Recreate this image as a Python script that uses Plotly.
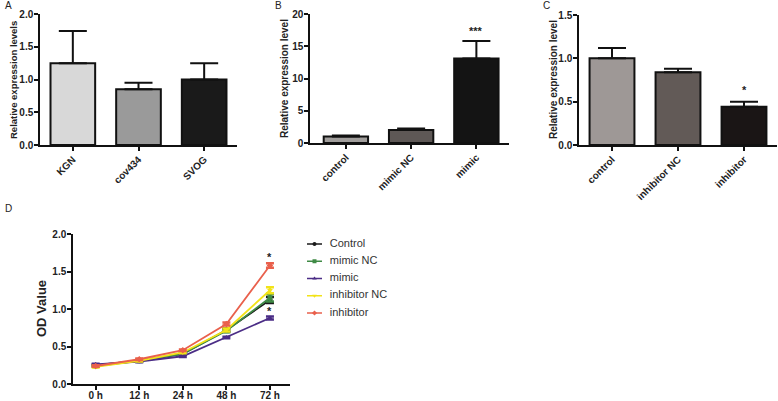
import plotly.graph_objects as go

W, H = 778, 401

# Panel A
a_cats = ["KGN", "cov434", "SVOG"]
a_vals = [1.25, 0.85, 1.00]
a_err = [0.49, 0.10, 0.25]
a_colors = ["#d8d8d8", "#9a9a9a", "#1a1a1a"]

# Panel B
b_cats = ["control", "mimic NC", "mimic"]
b_vals = [1.0, 2.0, 13.1]
b_err = [0.15, 0.25, 2.7]
b_colors = ["#a19e9c", "#5e5856", "#141414"]

# Panel C
c_cats = ["control", "inhibitor NC", "inhibitor"]
c_vals = [1.00, 0.84, 0.44]
c_err = [0.12, 0.04, 0.06]
c_colors = ["#9e9896", "#625a57", "#1a1515"]

# Panel D
d_times = ["0 h", "12 h", "24 h", "48 h", "72 h"]
d_series = ["Control", "mimic NC", "mimic", "inhibitor NC", "inhibitor"]
d_control = [0.25, 0.31, 0.40, 0.72, 1.12]
d_mimic_nc = [0.24, 0.31, 0.40, 0.71, 1.15]
d_mimic = [0.26, 0.30, 0.37, 0.62, 0.88]
d_inh_nc = [0.23, 0.31, 0.42, 0.72, 1.25]
d_inh = [0.24, 0.33, 0.45, 0.80, 1.58]
d_control_err = [0.01, 0.01, 0.01, 0.02, 0.04]
d_mimic_nc_err = [0.01, 0.01, 0.01, 0.02, 0.05]
d_mimic_err = [0.01, 0.01, 0.01, 0.01, 0.02]
d_inh_nc_err = [0.01, 0.01, 0.01, 0.02, 0.04]
d_inh_err = [0.01, 0.01, 0.01, 0.02, 0.03]
d_colors = ["#1a1a1a", "#3f8a45", "#4b2d86", "#f2e318", "#e9604c"]
d_symbols = ["circle", "square", "triangle-up", "triangle-down", "diamond"]

FONT = "Liberation Sans"
fig = go.Figure()


def px_x(a, b):
    return [a / W, b / W]


def px_y(top, bottom):
    return [1 - bottom / H, 1 - top / H]


def add_bars(cats, vals, errs, colors, xa, ya):
    fig.add_trace(go.Bar(
        x=cats, y=vals, marker=dict(color=colors, line=dict(color="#111", width=2)),
        width=0.68,
        error_y=dict(type="data", array=errs, arrayminus=[0] * len(errs), symmetric=False,
                     color="#111", thickness=2, width=14),
        xaxis=xa, yaxis=ya, showlegend=False, hoverinfo="skip"))


add_bars(a_cats, a_vals, a_err, a_colors, "x", "y")
add_bars(b_cats, b_vals, b_err, b_colors, "x2", "y2")
add_bars(c_cats, c_vals, c_err, c_colors, "x3", "y3")

d_vals = [d_control, d_mimic_nc, d_mimic, d_inh_nc, d_inh]
d_errs = [d_control_err, d_mimic_nc_err, d_mimic_err, d_inh_nc_err, d_inh_err]
for i, (name, v, e, c, s) in enumerate(zip(d_series, d_vals, d_errs, d_colors, d_symbols)):
    fig.add_trace(go.Scatter(
        x=d_times, y=v, name=name, mode="lines+markers",
        line=dict(color=c, width=1.8), marker=dict(symbol=s, size=5, color=c),
        error_y=dict(type="data", array=e, color=c, thickness=2.5, width=4),
        xaxis="x4", yaxis="y4", showlegend=False))
    # legend entry (own small axis, row = series index)
    fig.add_trace(go.Scatter(
        x=[0, 0.625, 1.25], y=[i, i, i], mode="lines", line=dict(color=c, width=1.5),
        xaxis="x5", yaxis="y5", showlegend=False, hoverinfo="skip"))
    fig.add_trace(go.Scatter(
        x=[0.625], y=[i], mode="markers", marker=dict(symbol=s, size=4, color=c),
        xaxis="x5", yaxis="y5", showlegend=False, hoverinfo="skip"))
    fig.add_trace(go.Scatter(
        x=[1.9], y=[i], mode="text", text=[name], textposition="middle right",
        textfont=dict(family=FONT, size=11, color="#333"),
        xaxis="x5", yaxis="y5", showlegend=False, hoverinfo="skip"))

tickf = dict(family=FONT, size=10, color="#222", weight="bold")
axis_common = dict(showline=True, linecolor="#111", linewidth=1.5, ticks="outside",
                   ticklen=4, tickwidth=1.5, tickcolor="#111", showgrid=False,
                   zeroline=False, tickfont=tickf, fixedrange=True, automargin=False)
hidden = dict(visible=False, fixedrange=True, showgrid=False, zeroline=False)

fig.update_layout(
    width=W, height=H, margin=dict(l=0, r=0, t=0, b=0, autoexpand=False),
    paper_bgcolor="white", plot_bgcolor="white", showlegend=False,
    xaxis=dict(domain=px_x(40, 237), anchor="y", range=[-0.5, 2.5], tickangle=-45,
               ticklabelstandoff=-1, **axis_common),
    yaxis=dict(domain=px_y(14, 145), anchor="x", range=[0, 2], dtick=0.5, tickformat=".1f",
               ticklabelstandoff=-1, **axis_common),
    xaxis2=dict(domain=px_x(310, 509), anchor="y2", range=[-0.55, 2.5], tickangle=-45,
                ticklabelstandoff=-1, **axis_common),
    yaxis2=dict(domain=px_y(14, 143), anchor="x2", range=[0, 20], dtick=5,
                ticklabelstandoff=-1, **axis_common),
    xaxis3=dict(domain=px_x(579, 777), anchor="y3", range=[-0.5, 2.5], tickangle=-45,
                ticklabelstandoff=-1, **axis_common),
    yaxis3=dict(domain=px_y(15, 145), anchor="x3", range=[0, 1.5], dtick=0.5, tickformat=".1f",
                ticklabelstandoff=-1, **axis_common),
    xaxis4=dict(domain=px_x(73, 290), anchor="y4", range=[-0.52, 4.46],
                ticklabelstandoff=-3, **axis_common),
    yaxis4=dict(domain=px_y(234, 384), anchor="x4", range=[0, 2], dtick=0.5, tickformat=".1f",
                ticklabelstandoff=-1, **axis_common),
    xaxis5=dict(domain=px_x(307, 427), anchor="y5", range=[0, 10], **hidden),
    yaxis5=dict(domain=px_y(235.4, 321.6), anchor="x5", range=[4.5, -0.5], **hidden),
    font=dict(family=FONT),
)

anns = [
    dict(text="A", x=3 / W, y=1 - 5 / H),
    dict(text="B", x=273 / W, y=1 - 5 / H),
    dict(text="C", x=541 / W, y=1 - 5 / H),
    dict(text="D", x=3 / W, y=1 - 209 / H),
]
for a in anns:
    fig.add_annotation(text=a["text"], x=a["x"], y=a["y"], xref="paper", yref="paper",
                       xanchor="left", yanchor="middle", showarrow=False,
                       font=dict(family=FONT, size=10, color="#222"))

ytitles = [
    ("Relative expression levels", 13, 80, 9.5),
    ("Relative expression level", 284, 79, 10),
    ("Relative expression level", 553, 80, 10),
    ("OD Value", 41, 309, 13),
]
for t, x, y, s in ytitles:
    fig.add_annotation(text=t, x=x / W, y=1 - y / H, xref="paper", yref="paper",
                       textangle=-90, showarrow=False, xanchor="center", yanchor="middle",
                       font=dict(family=FONT, size=s, color="#222", weight="bold"))

fig.add_annotation(text="***", x="mimic", y=17.4, xref="x2", yref="y2", showarrow=False,
                   font=dict(family=FONT, size=11, color="#222", weight="bold"))
fig.add_annotation(text="*", x="inhibitor", y=0.63, xref="x3", yref="y3", showarrow=False,
                   font=dict(family=FONT, size=11, color="#222", weight="bold"))
fig.add_annotation(text="*", x="72 h", y=1.70, xref="x4", yref="y4", showarrow=False,
                   font=dict(family=FONT, size=11, color="#222", weight="bold"))
fig.add_annotation(text="*", x="72 h", y=0.97, xref="x4", yref="y4", showarrow=False,
                   font=dict(family=FONT, size=11, color="#222", weight="bold"))

fig.write_html("out.html", config={"displayModeBar": False},
               post_script="document.body.style.margin='0';document.body.style.overflow='hidden';")
